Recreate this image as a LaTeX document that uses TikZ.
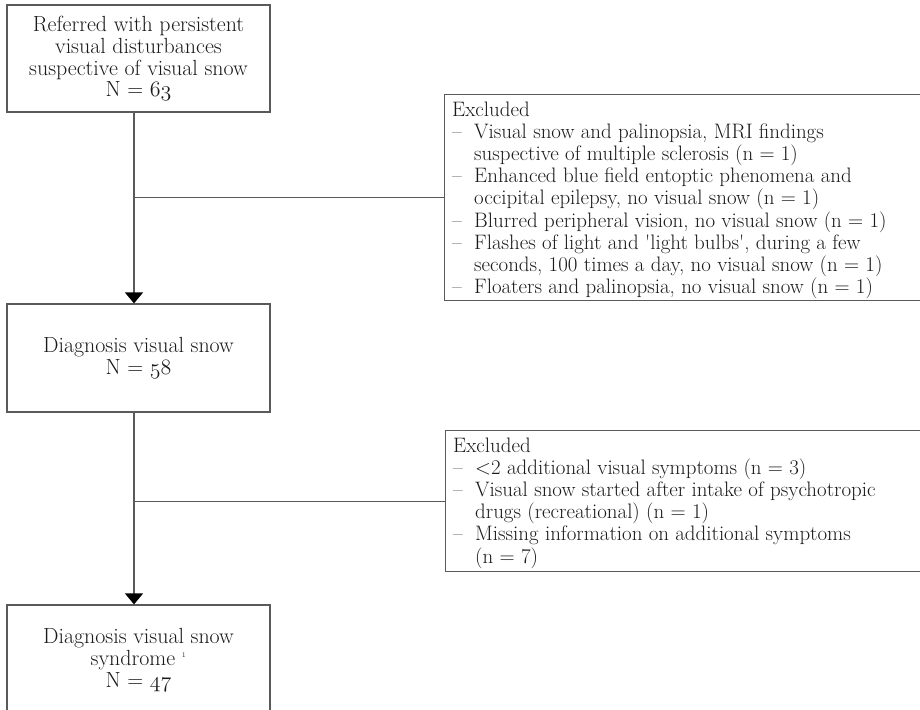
\documentclass[tikz,border=0pt]{standalone}
\usepackage{fix-cm}
\usetikzlibrary{arrows.meta}
\definecolor{linegray}{HTML}{5A5A5A}
\definecolor{txt}{HTML}{1A1A1A}
\newcommand{\osn}[1]{$\mathnormal{#1}$}
\begin{document}
\begin{tikzpicture}[x=1bp,y=-1bp,
  conn/.style={draw=linegray, line width=1.2bp},
  arr/.style={conn, -{Triangle[width=18bp,length=11bp,color=black]}},
  mainbox/.style={draw=linegray, line width=1.2bp, minimum width=263bp, inner sep=0pt,
    text=txt, align=center, font=\fontsize{22}{22}\selectfont},
  exbox/.style={draw=linegray, line width=1.2bp, minimum width=490bp, inner sep=0pt, anchor=north west},
  extext/.style={anchor=north west, inner xsep=8bp, inner ysep=7.5bp, align=left, text=txt,
    font=\fontsize{21}{22.25}\selectfont}]
\useasboundingbox (0,0) rectangle (920,710);
\clip (0,0) rectangle (920,710);
\newcommand{\itm}{\makebox[22bp][l]{--}}
\newcommand{\ind}{\hspace*{22bp}}
% main boxes
\node[mainbox, minimum height=107bp] (ref) at (138.5,58.5)
  {Referred with persistent\\visual disturbances\\suspective of visual snow\\N = \osn{63}};
\node[mainbox, minimum height=108bp] (diag) at (138.5,358)
  {Diagnosis visual snow\\N = \osn{58}};
\node[mainbox, minimum height=110bp] (syn) at (138.5,660)
  {Diagnosis visual snow\\syndrome \textsuperscript{\scriptsize 1}\\N = \osn{47}};
% excluded boxes
\node[exbox, minimum height=206bp] (exa) at (444,94) {};
\node[extext] (exat) at (exa.north west)
  {Excluded\\
   \itm Visual snow and palinopsia, MRI findings\\
   \ind suspective of multiple sclerosis (n = 1)\\
   \itm Enhanced blue field entoptic phenomena and\\
   \ind occipital epilepsy, no visual snow (n = 1)\\
   \itm Blurred peripheral vision, no visual snow (n = 1)\\
   \itm Flashes of light and \textquotesingle light bulbs\textquotesingle, during a few\\
   \ind seconds, 100 times a day, no visual snow (n = 1)\\
   \itm Floaters and palinopsia, no visual snow (n = 1)};
\node[exbox, minimum height=141bp] (exb) at (445,430) {};
\node[extext] (exbt) at (exb.north west)
  {Excluded\\
   \itm <2 additional visual symptoms (n = 3)\\
   \itm Visual snow started after intake of psychotropic\\
   \ind drugs (recreational) (n = 1)\\
   \itm Missing information on additional symptoms\\
   \ind (n = 7)};
% connectors
\coordinate (va) at ([xshift=-4.5bp]ref.south);
\coordinate (vb) at ([xshift=-4.5bp]diag.south);
\draw[arr] (va) -- (va |- diag.north);
\draw[arr] (vb) -- (vb |- syn.north);
\draw[conn] (exa.west) -- (exa.west -| va);
\draw[conn] (exb.west) -- (exb.west -| vb);
\end{tikzpicture}
\end{document}
